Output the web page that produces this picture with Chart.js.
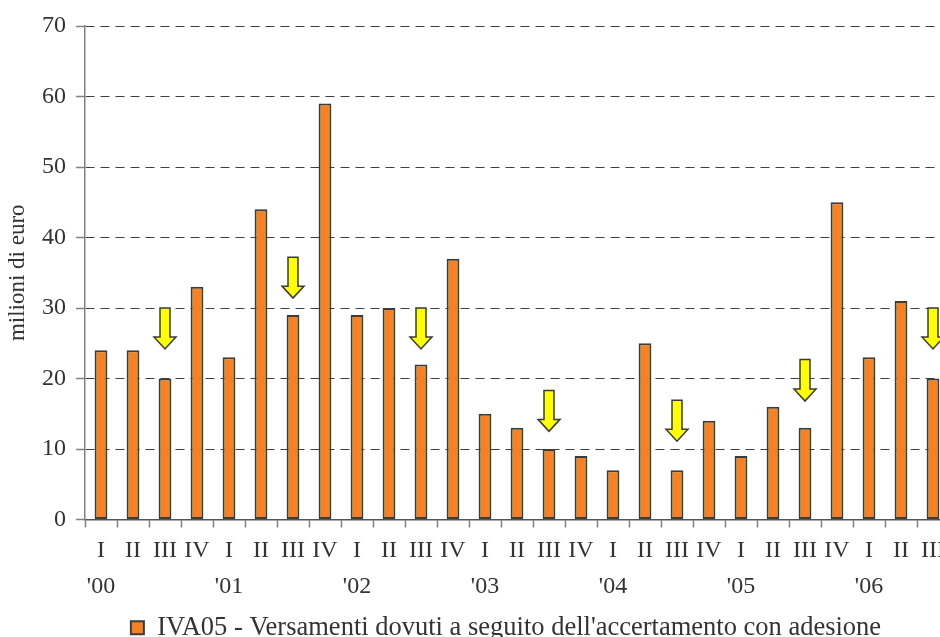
<!DOCTYPE html>
<html lang="it">
<head>
<meta charset="utf-8">
<title>IVA05 - Versamenti dovuti a seguito dell'accertamento con adesione</title>
<script src="https://cdn.jsdelivr.net/npm/chart.js@4/dist/chart.umd.min.js"></script>
<style>
  html, body { margin: 0; padding: 0; background: #ffffff; overflow: hidden; }
  #wrap { width: 940px; height: 637px; overflow: hidden; position: relative; }
  canvas { display: block; }
</style>
</head>
<body>
<div id="wrap"><canvas id="chart" width="1012" height="660"></canvas></div>
<script>
// Quarterly payments, 2000 Q1 - 2006 Q3 (milioni di euro)
const quarters = ['I','II','III','IV','I','II','III','IV','I','II','III','IV','I','II','III','IV',
                  'I','II','III','IV','I','II','III','IV','I','II','III'];
const years = ["'00",'','','',"'01",'','','',"'02",'','','',"'03",'','','',
               "'04",'','','',"'05",'','','',"'06",'',''];
const values = [24, 24, 20, 33, 23, 44, 29, 59, 29, 30, 22, 37, 15, 13, 10, 9,
                7, 25, 7, 14, 9, 16, 13, 45, 23, 31, 20];
const seriesLabel = "IVA05 - Versamenti dovuti a seguito dell'accertamento con adesione";
const yTickValues = [0, 10, 20, 30, 40, 50, 60, 70];

// Third-quarter markers: each arrow runs from arrowFrom down to arrowTo (axis units)
const arrowFrom = [30, 37.2, 30, 18.3, 16.9, 22.7, 30];
const arrowTo   = [24.2, 31.4, 24.2, 12.5, 11.1, 16.8, 24.2];

const labels = quarters.map((q, i) => [q, years[i]]);
const thirdQuarterIdx = quarters.map((q, i) => (q === 'III' ? i : -1)).filter(i => i >= 0);

const TEXT = '#333333';
Chart.defaults.font.family = "'Liberation Serif', 'Times New Roman', serif";
Chart.defaults.color = TEXT;

const q3Arrows = {
  id: 'q3Arrows',
  afterDatasetsDraw(chart) {
    const { ctx, scales: { x, y } } = chart;
    const shaftHalf = 5, headHalf = 11, headLen = 12;
    ctx.save();
    thirdQuarterIdx.forEach((idx, i) => {
      if (i >= arrowFrom.length) return;
      const cx = x.getPixelForValue(idx);
      const yTop = y.getPixelForValue(arrowFrom[i]);
      const yTip = y.getPixelForValue(arrowTo[i]);
      const yNeck = yTip - headLen;
      ctx.beginPath();
      ctx.moveTo(cx - shaftHalf, yTop);
      ctx.lineTo(cx + shaftHalf, yTop);
      ctx.lineTo(cx + shaftHalf, yNeck);
      ctx.lineTo(cx + headHalf, yNeck);
      ctx.lineTo(cx, yTip);
      ctx.lineTo(cx - headHalf, yNeck);
      ctx.lineTo(cx - shaftHalf, yNeck);
      ctx.closePath();
      ctx.fillStyle = '#FFFF00';
      ctx.fill();
      ctx.lineWidth = 1.5;
      ctx.lineJoin = 'miter';
      ctx.strokeStyle = '#3a3a3a';
      ctx.stroke();
    });
    ctx.restore();
  }
};

new Chart(document.getElementById('chart'), {
  type: 'bar',
  data: {
    labels: labels,
    datasets: [{
      label: seriesLabel,
      data: values,
      backgroundColor: '#F5821F',
      borderColor: '#3c3c3c',
      borderWidth: 2,
      borderSkipped: false,
      barPercentage: 0.4,
      categoryPercentage: 1.0
    }]
  },
  options: {
    responsive: false,
    animation: false,
    devicePixelRatio: 1,
    layout: { padding: { top: 26, right: 0, bottom: 9, left: 0 } },
    plugins: {
      tooltip: { enabled: false },
      legend: {
        position: 'bottom',
        labels: {
          font: { size: 26.5 },
          color: TEXT,
          boxWidth: 13,
          boxHeight: 13,
          padding: 10
        }
      }
    },
    scales: {
      x: {
        offset: true,
        grid: {
          display: true,
          drawOnChartArea: false,
          drawTicks: true,
          tickLength: 8,
          offset: true,
          tickColor: '#808080',
          tickWidth: 1.5
        },
        border: { display: true, color: '#555555', width: 1.5 },
        ticks: {
          autoSkip: false,
          maxRotation: 0,
          minRotation: 0,
          padding: 5,
          font: { size: 24, lineHeight: 1.5 },
          color: TEXT
        },
        afterFit(scale) { scale.height = 85; }
      },
      y: {
        min: 0,
        max: 70,
        afterBuildTicks(scale) { scale.ticks = yTickValues.map(v => ({ value: v })); },
        grid: {
          color: '#404040',
          lineWidth: 1,
          tickLength: 9,
          tickColor: '#808080',
          tickWidth: 1.5
        },
        border: { display: true, color: '#808080', width: 1.5, dash: [9, 6] },
        ticks: {
          padding: 10,
          font: { size: 24 },
          color: TEXT
        },
        title: {
          display: true,
          text: 'milioni di euro',
          font: { size: 23, lineHeight: 1.2 },
          color: TEXT,
          padding: { top: 4, bottom: 4 }
        },
        afterFit(scale) { scale.width = 85; }
      },
      // empty right-hand strip that keeps the plot area wider than the visible page
      spacer: {
        type: 'linear',
        position: 'right',
        display: true,
        grid: { display: false, drawTicks: false },
        border: { display: false },
        ticks: { display: false },
        afterFit(scale) { scale.width = 63; }
      }
    }
  },
  plugins: [q3Arrows]
});
</script>
</body>
</html>
